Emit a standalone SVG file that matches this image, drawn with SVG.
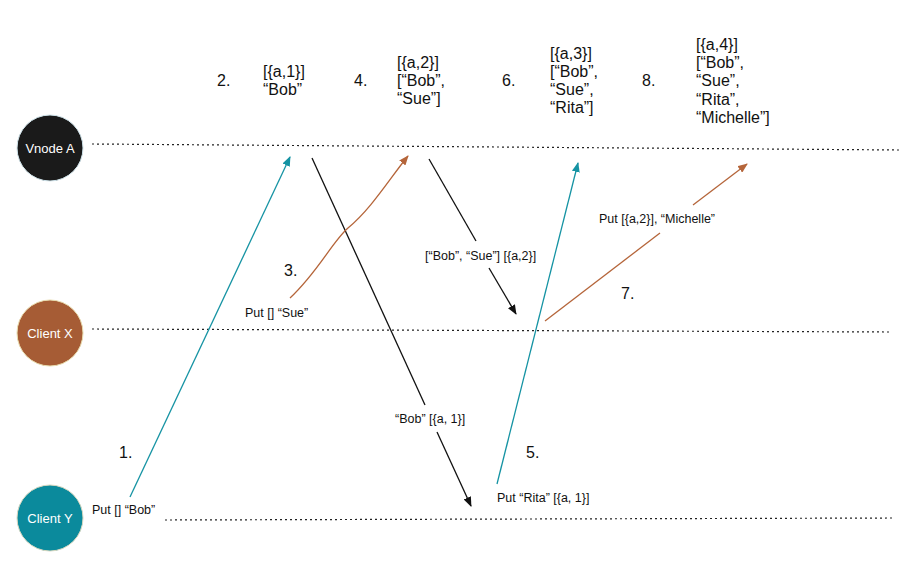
<svg xmlns="http://www.w3.org/2000/svg" width="915" height="581" viewBox="0 0 915 581">
<style>
.big{font-family:"Liberation Sans",Arial,sans-serif;font-size:16px;fill:#111}
.sm{font-family:"Liberation Sans",Arial,sans-serif;font-size:12.5px;fill:#111}
.nl{font-family:"Liberation Sans",Arial,sans-serif;font-size:13px;fill:#fff;text-anchor:middle}
.life{stroke:#222;stroke-width:1.2;stroke-dasharray:2 3;fill:none}
.teal{stroke:#1593a3;stroke-width:1.3;fill:none}
.brown{stroke:#b5653a;stroke-width:1.3;fill:none}
.blk{stroke:#111;stroke-width:1.3;fill:none}
</style>
<defs>
<marker id="mt" viewBox="0 0 10 8" refX="9" refY="4" markerWidth="10" markerHeight="8" markerUnits="userSpaceOnUse" orient="auto"><path d="M0,0 L10,4 L0,8 z" fill="#1593a3"/></marker>
<marker id="mb" viewBox="0 0 10 8" refX="9" refY="4" markerWidth="10" markerHeight="8" markerUnits="userSpaceOnUse" orient="auto"><path d="M0,0 L10,4 L0,8 z" fill="#b5653a"/></marker>
<marker id="mk" viewBox="0 0 10 8" refX="9" refY="4" markerWidth="10" markerHeight="8" markerUnits="userSpaceOnUse" orient="auto"><path d="M0,0 L10,4 L0,8 z" fill="#111"/></marker>
</defs>
<g id="lifelines">
<line class="life" x1="92" y1="144" x2="900" y2="150"/>
<line class="life" x1="92" y1="329" x2="890" y2="332"/>
<line class="life" x1="165" y1="520" x2="895" y2="518"/>
</g>
<g id="vnodeA"><circle cx="50" cy="148" r="33" fill="#1a1a1a" stroke="#cfe3ea" stroke-width="1"/><text class="nl" x="50" y="152.5">Vnode A</text></g>
<g id="clientX"><circle cx="50" cy="333" r="33" fill="#a65c35" stroke="#e8dcae" stroke-width="1"/><text class="nl" x="50" y="337.5">Client X</text></g>
<g id="clientY"><circle cx="50" cy="518" r="33" fill="#0b8a9c" stroke="#d8d8c0" stroke-width="1"/><text class="nl" x="50" y="522.5">Client Y</text></g>
<g id="connectors">
<line class="teal" x1="130" y1="497" x2="290" y2="157" marker-end="url(#mt)"/>
<line class="blk" x1="312" y1="158" x2="425" y2="405"/>
<line class="blk" x1="437" y1="432" x2="471" y2="506" marker-end="url(#mk)"/>
<path class="brown" d="M290,298 C318,272 332,242 348,228 C372,208 390,178 408,156" marker-end="url(#mb)"/>
<line class="blk" x1="429" y1="159" x2="476" y2="241"/>
<line class="blk" x1="489" y1="268" x2="516" y2="314" marker-end="url(#mk)"/>
<line class="teal" x1="497" y1="484" x2="578" y2="163" marker-end="url(#mt)"/>
<line class="brown" x1="545" y1="321" x2="660" y2="233"/>
<line class="brown" x1="693" y1="205" x2="747" y2="164" marker-end="url(#mb)"/>
</g>
<g id="labels">
<text class="big" x="119" y="458">1.</text>
<text class="big" x="217" y="86">2.</text>
<text class="big" x="284" y="276">3.</text>
<text class="big" x="354" y="86">4.</text>
<text class="big" x="526" y="458">5.</text>
<text class="big" x="502" y="86">6.</text>
<text class="big" x="621" y="299">7.</text>
<text class="big" x="642" y="86">8.</text>
<text class="big" x="263" y="77">[{a,1}]<tspan x="263" dy="18">“Bob”</tspan></text>
<text class="big" x="397" y="68">[{a,2}]<tspan x="397" dy="18">[“Bob”,</tspan><tspan x="397" dy="18">“Sue”]</tspan></text>
<text class="big" x="550" y="59">[{a,3}]<tspan x="550" dy="18">[“Bob”,</tspan><tspan x="550" dy="18">“Sue”,</tspan><tspan x="550" dy="18">“Rita”]</tspan></text>
<text class="big" x="696" y="50">[{a,4}]<tspan x="696" dy="18.2">[“Bob”,</tspan><tspan x="696" dy="18.2">“Sue”,</tspan><tspan x="696" dy="18.2">“Rita”,</tspan><tspan x="696" dy="18.2">“Michelle”]</tspan></text>
<text class="sm" x="92" y="514">Put [] “Bob”</text>
<text class="sm" x="245" y="317">Put [] “Sue”</text>
<text class="sm" x="425" y="260">[“Bob”, “Sue”] [{a,2}]</text>
<text class="sm" x="395" y="423">“Bob” [{a, 1}]</text>
<text class="sm" x="497" y="502">Put “Rita” [{a, 1}]</text>
<text class="sm" x="599" y="223">Put [{a,2}], “Michelle”</text>
</g>
</svg>
